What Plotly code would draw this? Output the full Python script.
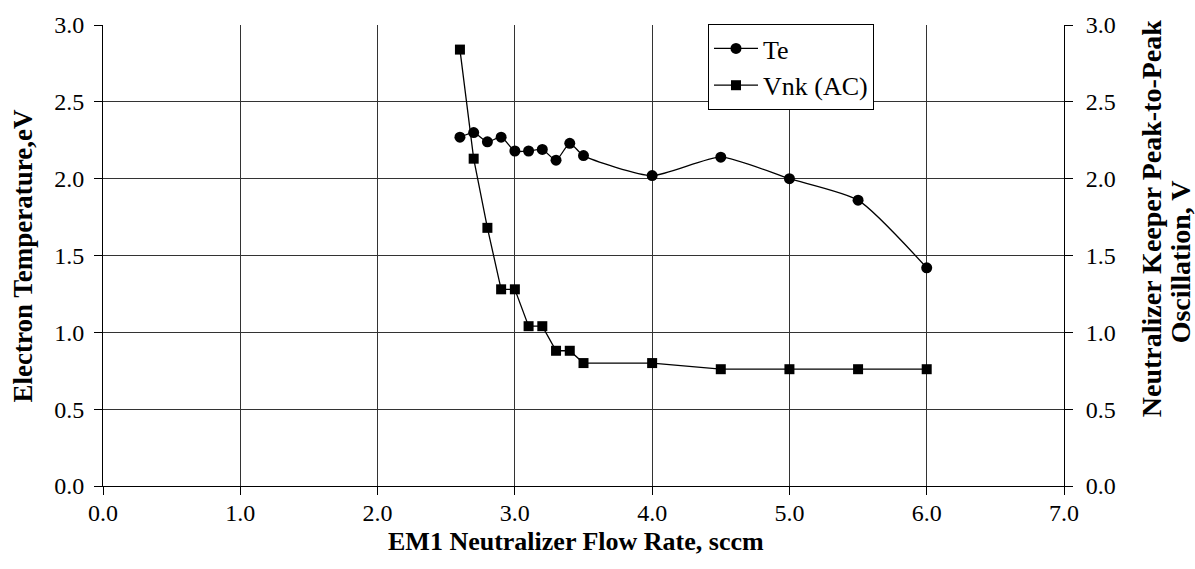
import plotly.graph_objects as go

# Data
flow = [2.6, 2.7, 2.8, 2.9, 3.0, 3.1, 3.2, 3.3, 3.4, 3.5, 4.0, 4.5, 5.0, 5.5, 6.0]
te = [2.27, 2.30, 2.24, 2.27, 2.18, 2.18, 2.19, 2.12, 2.23, 2.15, 2.02, 2.14, 2.00, 1.86, 1.42]
vnk = [2.84, 2.13, 1.68, 1.28, 1.28, 1.04, 1.04, 0.88, 0.88, 0.80, 0.80, 0.76, 0.76, 0.76, 0.76]

x_ticks = [0, 1, 2, 3, 4, 5, 6, 7]
y_ticks = [0, 0.5, 1.0, 1.5, 2.0, 2.5, 3.0]

FONT = "Liberation Serif"

fig = go.Figure()
fig.add_trace(go.Scatter(
    x=flow, y=te, name="Te", mode="lines+markers", legendgroup="a",
    line=dict(color="black", width=1.3, shape="spline", smoothing=0.6),
    marker=dict(symbol="circle", size=11, color="black"),
    yaxis="y"))
fig.add_trace(go.Scatter(
    x=flow, y=vnk, name="Vnk (AC)", mode="lines+markers", legendgroup="b",
    line=dict(color="black", width=1.3),
    marker=dict(symbol="square", size=10, color="black"),
    yaxis="y2"))

W, H = 1195, 569
L, R, T, B = 103, 1064, 16, 486

axis_common = dict(
    showline=True, linecolor="black", linewidth=1,
    showgrid=True, gridcolor="#333333", gridwidth=1,
    zeroline=False, ticks="outside", ticklen=8, tickcolor="black",
    tickfont=dict(family=FONT, size=24, color="black"),
    tickformat=".1f",
)

fig.update_layout(
    width=W, height=H,
    margin=dict(l=L, r=W - R, t=T, b=H - B, pad=0),
    paper_bgcolor="white", plot_bgcolor="white",
    font=dict(family=FONT, color="black"),
    showlegend=True,
    legend=dict(
        x=(708 - L) / (R - L), y=(B - 15) / (B - T),
        xanchor="left", yanchor="top",
        bordercolor="black", borderwidth=1, bgcolor="white",
        font=dict(family=FONT, size=26, color="black"),
        tracegroupgap=0, itemwidth=44,
    ),
    xaxis=dict(range=[0, 7], tickvals=x_ticks, ticklabelstandoff=-3, **axis_common),
    yaxis=dict(range=[0, 3], tickvals=y_ticks, ticklabelstandoff=5, **axis_common),
    yaxis2=dict(range=[0, 3], tickvals=y_ticks, overlaying="y", side="right",
                ticklabelstandoff=8, **{k: v for k, v in axis_common.items() if k != "showgrid"},
                showgrid=False),
)

fig.add_annotation(text="<b>EM1 Neutralizer Flow Rate, sccm</b>", x=576, y=H - 543,
                   showarrow=False, font=dict(family=FONT, size=26, color="black"))
fig.add_annotation(text="<b>Electron Temperature,eV</b>", x=23, y=H - 252, textangle=-90,
                   showarrow=False, font=dict(family=FONT, size=27, color="black"))
fig.add_annotation(text="<b>Neutralizer Keeper Peak-to-Peak</b>", x=1151, y=H - 214, textangle=-90,
                   showarrow=False, font=dict(family=FONT, size=28, color="black"))
fig.add_annotation(text="<b>Oscillation, V</b>", x=1180, y=H - 258, textangle=-90,
                   showarrow=False, font=dict(family=FONT, size=28, color="black"))

# convert pixel positions of annotations to paper coords
for a in fig.layout.annotations:
    a.xref = "paper"; a.yref = "paper"
    a.x = (a.x - L) / (R - L)
    a.y = (a.y - (H - B)) / (B - T)
    a.xanchor = "center"; a.yanchor = "middle"

fig.write_html("out.html")
